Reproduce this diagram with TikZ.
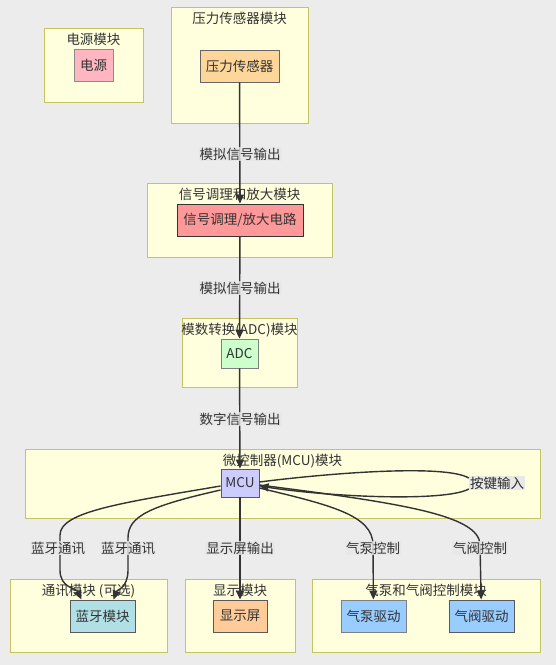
\documentclass[tikz,border=0pt]{standalone}
\usepackage{fontspec}
\setmainfont{Noto Sans CJK SC}
\definecolor{bggray}{RGB}{236,236,236}
\definecolor{clfill}{RGB}{255,255,222}
\definecolor{cldraw}{RGB}{196,196,100}
\definecolor{edgecol}{RGB}{51,51,51}
\definecolor{lblfill}{RGB}{232,232,232}
\definecolor{pinkfill}{RGB}{255,182,193}
\definecolor{orangefill}{RGB}{255,214,153}
\definecolor{redfill}{RGB}{255,153,153}
\definecolor{greenfill}{RGB}{204,255,204}
\definecolor{violetfill}{RGB}{204,204,255}
\definecolor{cyanfill}{RGB}{176,224,230}
\definecolor{peachfill}{RGB}{255,204,153}
\definecolor{bluefill}{RGB}{153,204,255}
\usetikzlibrary{positioning, arrows.meta}

\begin{document}
\begin{tikzpicture}[x=1pt, y=-1pt,
  cluster/.style={draw=cldraw, fill=clfill, line width=0.9pt},
  ctitle/.style={font=\fontsize{13.5}{15}\selectfont, text=edgecol, inner sep=2pt},
  box/.style={draw=gray, line width=0.9pt, minimum height=32pt, inner xsep=4pt,
    font=\fontsize{13.5}{15}\selectfont, text=edgecol},
  edgelbl/.style={fill=lblfill, fill opacity=0.8, text opacity=1, inner sep=1pt,
    font=\fontsize{13.5}{15}\selectfont, text=edgecol},
  arrow/.style={-{Triangle[length=9pt,width=8pt]}, edgecol, line width=1.4pt},
]
  \fill[bggray] (0,0) rectangle (556,665);
  \useasboundingbox (0,0) rectangle (556,665);

  \node[cluster, minimum width=99pt, minimum height=74pt] (cpower) at (93.5,65) {};
  \node[cluster, minimum width=137pt, minimum height=116pt] (cpress) at (239.5,65) {};
  \node[cluster, minimum width=185pt, minimum height=74pt] (csignal) at (239.5,220) {};
  \node[cluster, minimum width=115pt, minimum height=69pt] (cadc) at (239.5,352.5) {};
  \node[cluster, minimum width=515pt, minimum height=69pt] (cmcu) at (282.5,483.5) {};
  \node[cluster, minimum width=157pt, minimum height=73pt] (ccomm) at (88.5,615.5) {};
  \node[cluster, minimum width=110pt, minimum height=73pt] (cdisp) at (240,615.5) {};
  \node[cluster, minimum width=228pt, minimum height=73pt] (cdrive) at (426,615.5) {};

  \node[ctitle, below=3pt of cpower.north] {电源模块};
  \node[ctitle, below=3pt of cpress.north] {压力传感器模块};
  \node[ctitle, below=3pt of csignal.north] {信号调理和放大模块};
  \node[ctitle, below=3pt of cadc.north] {模数转换(ADC)模块};
  \node[ctitle, below=3pt of cmcu.north] {微控制器(MCU)模块};
  \node[ctitle, below=3pt of ccomm.north] {通讯模块 (可选)};
  \node[ctitle, below=3pt of cdisp.north] {显示模块};
  \node[ctitle, below=3pt of cdrive.north] {气泵和气阀控制模块};

  \node[box, fill=pinkfill, draw=gray!90, minimum width=39pt] (power) at (93.5,65.5) {电源};
  \node[box, fill=orangefill, draw=gray!120, minimum width=79pt] (press) at (239.5,66) {压力传感器};
  \node[box, fill=redfill, draw=edgecol, minimum width=126pt] (signal) at (240,220) {信号调理/放大电路};
  \node[box, fill=greenfill, minimum width=37pt, minimum height=29pt] (adc) at (239.5,353.5) {ADC};
  \node[box, fill=violetfill, draw=gray!130, minimum width=38pt, minimum height=28pt] (mcu) at (240,483) {MCU};
  \node[box, fill=cyanfill, draw=gray!130, minimum width=65pt] (bt) at (102.5,616) {蓝牙模块};
  \node[box, fill=peachfill, draw=gray!130, minimum width=54pt] (disp) at (240,616) {显示屏};
  \node[box, fill=bluefill, minimum width=65pt] (pump) at (373.5,616) {气泵驱动};
  \node[box, fill=bluefill, draw=gray!130, minimum width=65pt] (valve) at (481.5,616) {气阀驱动};

  \node[edgelbl] (key) at (497,483) {按键输入};

  \draw[arrow] (press) -- (signal);
  \draw[arrow] (signal) -- (adc);
  \draw[arrow] (adc) -- (mcu);
  \draw[arrow] (mcu) -- (disp);
  \draw[arrow] ([yshift=-3pt]mcu.west) .. controls (120,503) and (60,512) .. (60,535)
    -- (60,570) .. controls (60,588) and (76,588) .. ([xshift=-21pt]bt.north);
  \draw[arrow] ([yshift=-7pt]mcu.west) .. controls (150,506) and (128,516) .. (128,538)
    -- (128,570) .. controls (128,588) and (117,590) .. ([xshift=11pt]bt.north);
  \draw[arrow] ([yshift=-5pt]mcu.east) .. controls (330,505) and (373,515) .. (373,545) -- (pump);
  \draw[arrow] ([yshift=-2pt]mcu.east) .. controls (400,503) and (480,515) .. (480,545) -- (valve);
  \draw[arrow] ([yshift=1pt]mcu.east) .. controls (330,473) and (445,464) .. ([yshift=5pt]key.west)
    ([yshift=-6pt]key.west) .. controls (445,502) and (330,497) .. ([yshift=-3pt]mcu.east);

  \node[edgelbl] at (key) {按键输入};
  \node[edgelbl] (lbla) at (240,154) {模拟信号输出};
  \node[edgelbl] (lblb) at (240,288) {模拟信号输出};
  \node[edgelbl] (lblc) at (240,419) {数字信号输出};
  \node[edgelbl] (lbld) at (58,548) {蓝牙通讯};
  \node[edgelbl] (lble) at (128,548) {蓝牙通讯};
  \node[edgelbl] (lblf) at (240,548) {显示屏输出};
  \node[edgelbl] (lblg) at (373,548) {气泵控制};
  \node[edgelbl] (lblh) at (480,548) {气阀控制};
\end{tikzpicture}
\end{document}
